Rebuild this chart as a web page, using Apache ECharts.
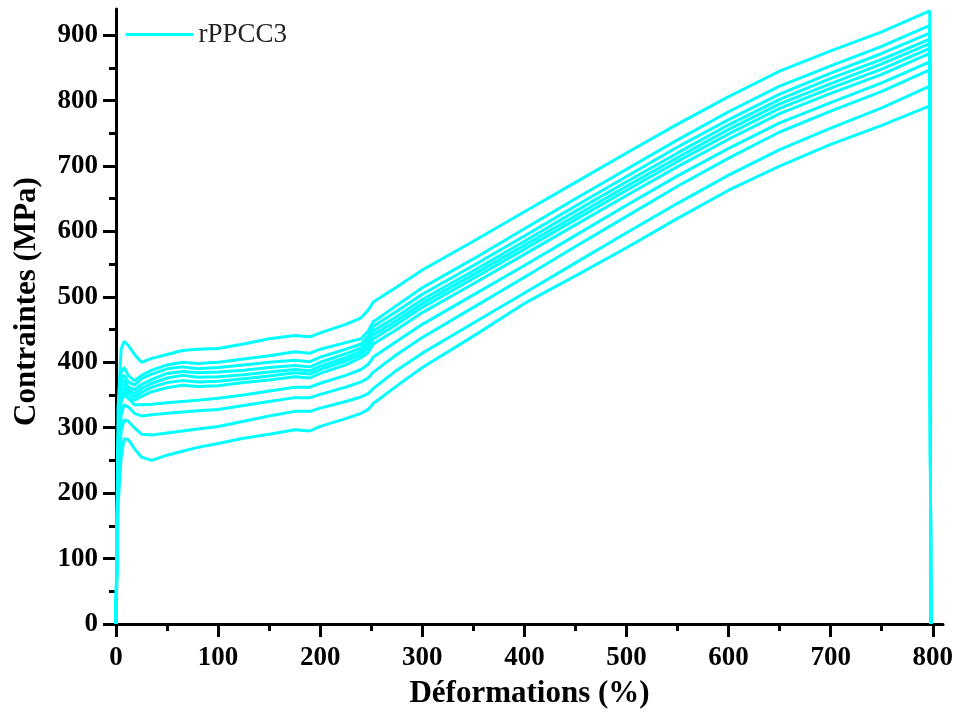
<!DOCTYPE html>
<html>
<head>
<meta charset="utf-8">
<script src="https://cdn.jsdelivr.net/npm/echarts@6/dist/echarts.min.js"></script>
<style>html,body{margin:0;padding:0;background:#fff}#c{width:958px;height:718px}</style>
</head>
<body>
<div id="c"></div>
<script>
const seriesName = 'rPPCC3';
const strain = [0, 2, 5, 8, 12, 18, 25, 35, 50, 65, 80, 100, 125, 150, 175, 190, 200, 225, 240, 247, 252, 275, 300, 350, 400, 450, 500, 550, 600, 650, 700, 750, 797, 798];
const stress1 = [0, 330, 420, 432, 426, 412, 400, 406, 412, 418, 420, 421, 428, 436, 441, 439, 445, 458, 468, 480, 492, 515, 541, 585, 630, 675, 720, 764, 806, 845, 876, 905, 937, 0];
const stress2 = [0, 280, 385, 392, 380, 372, 380, 388, 396, 400, 398, 400, 405, 410, 416, 414, 420, 430, 436, 448, 462, 487, 514, 558, 604, 650, 695, 740, 783, 822, 853, 883, 915, 0];
const stress3 = [0, 270, 375, 380, 370, 365, 375, 382, 390, 393, 390, 392, 396, 400, 403, 401, 408, 420, 428, 440, 455, 478, 504, 548, 593, 639, 684, 729, 771, 810, 842, 872, 903, 0];
const stress4 = [0, 265, 370, 372, 362, 358, 366, 374, 383, 386, 384, 385, 388, 392, 395, 393, 400, 413, 422, 434, 448, 470, 496, 540, 585, 631, 676, 720, 763, 802, 834, 863, 894, 0];
const stress5 = [0, 260, 365, 366, 357, 352, 360, 368, 376, 380, 377, 378, 381, 385, 389, 387, 394, 407, 417, 428, 442, 464, 490, 534, 579, 624, 669, 713, 756, 795, 826, 856, 887, 0];
const stress6 = [0, 255, 358, 360, 352, 347, 354, 362, 369, 372, 370, 371, 375, 379, 384, 382, 389, 402, 412, 422, 436, 458, 484, 528, 573, 618, 663, 707, 749, 788, 819, 848, 880, 0];
const stress7 = [0, 250, 350, 355, 346, 342, 348, 355, 361, 365, 363, 364, 369, 373, 378, 376, 383, 396, 407, 415, 428, 450, 476, 520, 565, 610, 655, 699, 741, 780, 811, 840, 872, 0];
const stress8 = [0, 240, 340, 350, 345, 335, 335, 336, 338, 340, 342, 345, 350, 356, 362, 362, 368, 380, 389, 397, 408, 432, 458, 503, 548, 594, 640, 685, 727, 766, 797, 827, 859, 0];
const stress9 = [0, 220, 320, 335, 332, 322, 318, 320, 322, 324, 326, 328, 334, 340, 346, 346, 351, 362, 370, 376, 385, 412, 438, 484, 530, 577, 623, 669, 712, 752, 784, 814, 847, 0];
const stress10 = [0, 200, 295, 312, 310, 300, 290, 289, 292, 295, 298, 302, 310, 318, 325, 325, 330, 340, 347, 352, 360, 388, 414, 460, 506, 552, 598, 643, 686, 725, 758, 789, 822, 0];
const stress11 = [0, 180, 255, 283, 282, 268, 255, 250, 258, 264, 270, 276, 284, 290, 297, 295, 302, 314, 322, 328, 337, 364, 392, 440, 490, 532, 575, 620, 663, 700, 733, 762, 792, 0];
const xMajorTicks = [0, 100, 200, 300, 400, 500, 600, 700, 800];
const xMinorTicks = [50, 150, 250, 350, 450, 550, 650, 750];
const yMajorTicks = [0, 100, 200, 300, 400, 500, 600, 700, 800, 900];
const yMinorTicks = [50, 150, 250, 350, 450, 550, 650, 750, 850];

const curves = [stress1, stress2, stress3, stress4, stress5, stress6, stress7, stress8, stress9, stress10, stress11];
const FONT = '"Liberation Serif", "Times New Roman", serif';
const chart = echarts.init(document.getElementById('c'), null, {renderer: 'canvas'});

const series = curves.map(arr => ({
  name: seriesName,
  type: 'line',
  xAxisIndex: 0,
  yAxisIndex: 0,
  data: strain.map((x, i) => [x, arr[i]]),
  showSymbol: false,
  symbol: 'none',
  lineStyle: {color: '#00FFFF', width: 3},
  itemStyle: {color: '#00FFFF'},
  z: 1
}));

const labelStyle = {fontFamily: FONT, fontWeight: 'bold', fontSize: 27, color: '#000'};

chart.setOption({
  animation: false,
  backgroundColor: '#fff',
  grid: {left: 116, right: 15, top: 9, bottom: 94, containLabel: false},
  legend: {
    data: [seriesName],
    left: 119, top: 16,
    itemWidth: 68, itemHeight: 14, itemGap: 8,
    itemStyle: {opacity: 0},
    lineStyle: {color: '#00FFFF', width: 3},
    textStyle: {fontFamily: FONT, fontSize: 27, color: '#222'}
  },
  xAxis: [{
    type: 'value', min: 0, max: 810, interval: 100,
    name: 'Déformations (%)', nameLocation: 'middle', nameGap: 54,
    nameTextStyle: {fontFamily: FONT, fontWeight: 'bold', fontSize: 31, color: '#000'},
    axisLine: {show: true, onZero: false, lineStyle: {color: '#000', width: 3}},
    axisTick: {show: true, customValues: xMajorTicks, length: 13, lineStyle: {color: '#000', width: 3}},
    axisLabel: Object.assign({customValues: xMajorTicks, margin: 21}, labelStyle),
    splitLine: {show: false}
  }, {
    type: 'value', min: 0, max: 810, position: 'bottom',
    axisLine: {show: false},
    axisTick: {show: true, customValues: xMinorTicks, length: 7, lineStyle: {color: '#000', width: 3}},
    axisLabel: {show: false},
    splitLine: {show: false}
  }],
  yAxis: [{
    type: 'value', min: 0, max: 940, interval: 100, position: 'left',
    name: 'Contraintes (MPa)', nameLocation: 'middle', nameGap: 74, nameRotate: 90,
    nameTextStyle: {fontFamily: FONT, fontWeight: 'bold', fontSize: 31, color: '#000', padding: [0, 0, 0, 30]},
    axisLine: {show: true, onZero: false, lineStyle: {color: '#000', width: 3}},
    axisTick: {show: true, customValues: yMajorTicks, length: 13, lineStyle: {color: '#000', width: 3}},
    axisLabel: Object.assign({customValues: yMajorTicks, margin: 18}, labelStyle),
    splitLine: {show: false}
  }, {
    type: 'value', min: 0, max: 940, position: 'left',
    axisLine: {show: false},
    axisTick: {show: true, customValues: yMinorTicks, length: 7, lineStyle: {color: '#000', width: 3}},
    axisLabel: {show: false},
    splitLine: {show: false}
  }],
  series: series
});
</script>
</body>
</html>
